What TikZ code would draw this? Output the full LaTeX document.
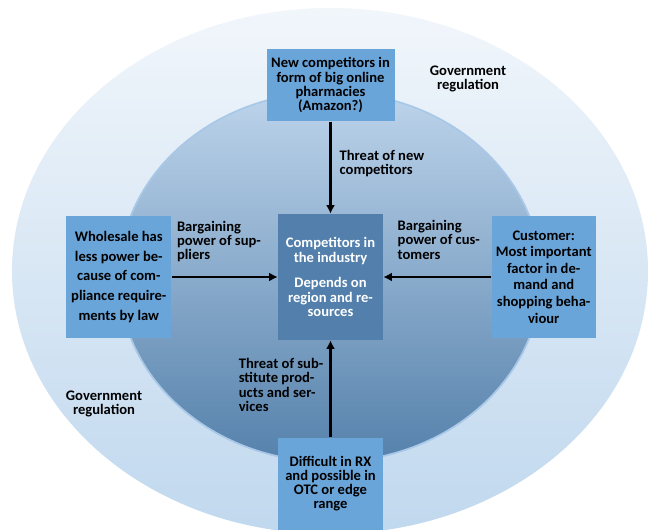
\documentclass[tikz,border=0pt]{standalone}
\usepackage{fontspec}
\setmainfont{Carlito}
\usetikzlibrary{positioning}
\usetikzlibrary{arrows.meta}

\definecolor{ring_top}{HTML}{F1F6FB}
\definecolor{ring_mid}{HTML}{BCD5EC}
\definecolor{ring_bot}{HTML}{C0D8EE}
\definecolor{core_top}{HTML}{BDD4EB}
\definecolor{core_mid}{HTML}{9BBAD8}
\definecolor{core_bot}{HTML}{5581AB}
\definecolor{core_rim}{HTML}{A9C8E8}
\definecolor{force_blue}{HTML}{6AA5DA}
\definecolor{center_blue}{HTML}{527FAB}

\tikzset{
        textnode/.style={inner sep=0pt, font=\fontsize{8.3}{8.1}\selectfont\bfseries},
        % Boxes for the four forces
        box_force/.style={textnode, align=center, rectangle, fill=force_blue, text=black},
        % Box in the middle
        box_core/.style={textnode, align=center, rectangle, fill=center_blue, text=white,
                font=\fontsize{8.3}{8.5}\selectfont\bfseries},
        % Texts next to the arrows
        label_force/.style={textnode, align=left, text=black},
        % Texts in the outer ring
        label_gov/.style={textnode, align=center, text=black},
        force_arrow/.style={-{Latex[length=0.17cm,width=0.18cm]}, line width=1.3pt, black}
}

\begin{document}
\begin{tikzpicture}
    \useasboundingbox (0,0) rectangle (13.02,-10.6);
    \fill[white] (0,0) rectangle (13.02,-10.6);

    % outer ring and inner disc
    \shade[top color=ring_top, middle color=ring_mid, bottom color=ring_bot]
        (6.60,-5.42) ellipse (6.36cm and 5.26cm);
    \shade[top color=core_top, middle color=core_mid, bottom color=core_bot, draw=core_rim, line width=1pt]
        (6.60,-5.54) ellipse (4.22cm and 3.70cm);

    \node[box_core, minimum width=2.1cm, minimum height=2.52cm] (core) at (6.61,-5.54)
        {Competitors in\\the industry\\[0.2cm]Depends on\\region and re-\\sources};
    \node[box_force, minimum width=2.56cm, minimum height=1.44cm, above=1.84cm of core] (new)
        {New competitors in\\form of big online\\pharmacies\\(Amazon?)};
    \node[box_force, minimum width=2.1cm, minimum height=2.44cm, left=2.12cm of core,
          font=\fontsize{8.3}{11.3}\selectfont\bfseries] (wholesale)
        {Wholesale has\\less power be-\\cause of com-\\pliance require-\\ments by law};
    \node[box_force, minimum width=2.08cm, minimum height=2.42cm, right=2.16cm of core,
          font=\fontsize{8.3}{9.4}\selectfont\bfseries] (customer)
        {Customer:\\Most important\\factor in de-\\mand and\\shopping beha-\\viour};
    \node[box_force, minimum width=2.1cm, minimum height=1.84cm, below=1.94cm of core] (substitute)
        {Difficult in RX\\and possible in\\OTC or edge\\range};

    % arrows into the middle
    \draw[force_arrow] (new) -- node[label_force, pos=0.3, anchor=north west, xshift=0.16cm] (lbl_new)
        {Threat of new\\competitors} (core);
    \draw[force_arrow] (wholesale) -- (core);
    \draw[force_arrow] (customer) -- (core);
    \draw[force_arrow] (substitute) -- node[label_force, pos=0.825, anchor=north east, xshift=-0.12cm] (lbl_sub)
        {Threat of sub-\\stitute prod-\\ucts and ser-\\vices} (core);

    \node[label_force, anchor=north west] (lbl_sup) at ([xshift=0.1cm, yshift=-0.1cm]wholesale.north east)
        {Bargaining\\power of sup-\\pliers};
    \node[label_force, anchor=north west] (lbl_cus) at ([xshift=0.28cm, yshift=-0.13cm]core.north east)
        {Bargaining\\power of cus-\\tomers};

    \node[label_gov] (gov_top) at (9.36,-1.58) {Government\\regulation};
    \node[label_gov] (gov_bottom) at (2.08,-8.08) {Government\\regulation};
\end{tikzpicture}
\end{document}
